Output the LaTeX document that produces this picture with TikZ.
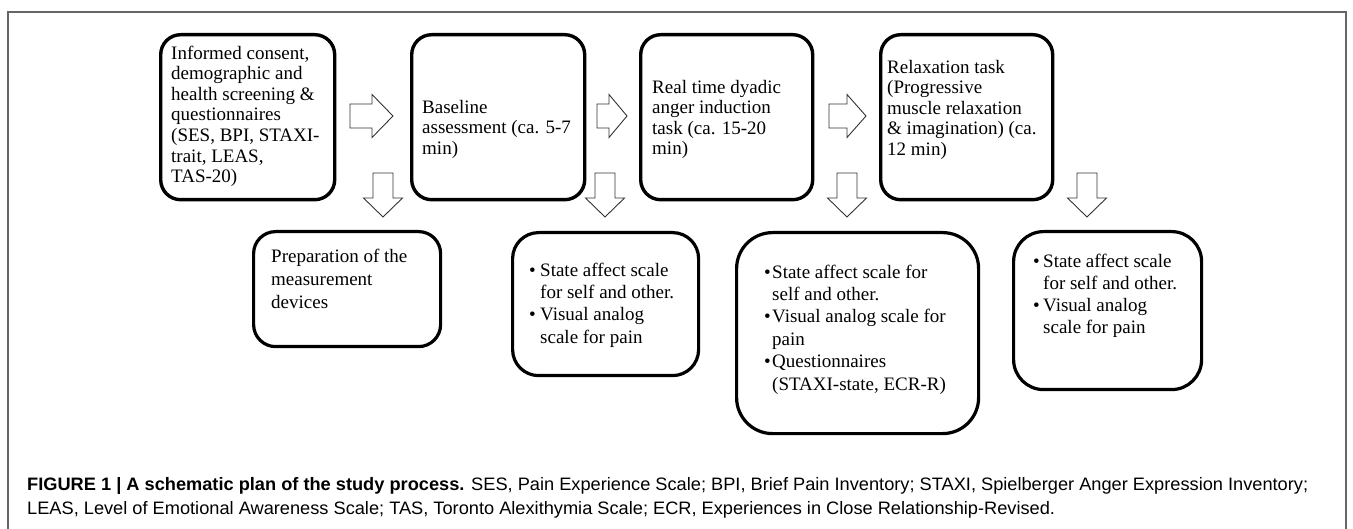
\documentclass[tikz,border=0pt]{standalone}
\usepackage{fontspec}
\setmainfont{Liberation Serif}
\newfontfamily\capfont{Liberation Sans}
\usepackage{graphicx}
\newsavebox\capboxA
\newsavebox\capboxB
\newlength\capwd
\newcommand\mybul[1]{\makebox[#1pt][l]{\textbullet}}
\newcommand\myind[1]{\hspace*{#1pt}}
\newcommand\rarr[4]{\draw[blk] (#1,#4-12) -- (#3,#4-12) -- (#3,#4-21.5) -- (#2,#4) -- (#3,#4+21.5) -- (#3,#4+12) -- (#1,#4+12) -- cycle;}
\newcommand\darr[1]{\draw[blk] (#1-10,173) -- (#1+10,173) -- (#1+10,198) -- (#1+19.5,198) -- (#1,217) -- (#1-19.5,198) -- (#1-10,198) -- cycle;}
\begin{document}
\sbox\capboxA{\capfont\fontsize{18}{22}\selectfont\textbf{FIGURE 1 | A schematic plan of the study process.} SES, Pain Experience Scale; BPI, Brief Pain Inventory; STAXI, Spielberger Anger Expression Inventory;}
\sbox\capboxB{\capfont\fontsize{18}{22}\selectfont LEAS, Level of Emotional Awareness Scale; TAS, Toronto Alexithymia Scale; ECR, Experiences in Close Relationship-Revised.}
\setlength\capwd{\wd\capboxA}
\pgfmathsetmacro\capsx{1281/\capwd}
\begin{tikzpicture}[x=1pt,y=-1pt,
  topbox/.style={draw=black, line width=3.4pt, rounded corners=20pt, anchor=north west, inner sep=0pt},
  lowbox/.style={draw=black, line width=3.2pt, anchor=north west, inner sep=0pt},
  txt/.style={anchor=north west, inner sep=0pt, align=left, font=\fontsize{19}{20.6}\selectfont},
  ltxt/.style={anchor=north west, inner sep=0pt, align=left, font=\fontsize{19}{22.4}\selectfont},
  blk/.style={draw=black!80, line width=0.9pt, fill=white, line join=miter},
  captxt/.style={anchor=base west, inner sep=0pt, text=black!90},
]
\useasboundingbox (0,0) rectangle (1353,529);
\fill[white] (0,0) rectangle (1353,529);
\draw[black!60, line width=1.4pt] (8,560) -- (8,12) -- (1346,12) -- (1346,560);

% top row
\node[topbox, minimum width=174pt, minimum height=165pt] (b1) at (159,33) {};
\node[topbox, minimum width=173pt, minimum height=165pt] (b2) at (410,33) {};
\node[topbox, minimum width=172pt, minimum height=165pt] (b3) at (639,33) {};
\node[topbox, minimum width=172pt, minimum height=165pt] (b4) at (879,33) {};

\node[txt] (t1) at (171,43) {\rule{0pt}{16pt}Informed consent,\\demographic and\\health screening \&\\questionnaires\\(SES, BPI, STAXI-\\trait, LEAS,\\TAS-20)};
\node[txt] (t2) at (422,97) {\rule{0pt}{16pt}Baseline\\assessment (ca. 5-7\\min)};
\node[txt] (t3) at (652,77) {\rule{0pt}{16pt}Real time dyadic\\anger induction\\task (ca. 15-20\\min)};
\node[txt] (t4) at (887,57) {\rule{0pt}{16pt}Relaxation task\\(Progressive\\muscle relaxation\\\& imagination) (ca.\\12 min)};

% bottom row
\node[lowbox, rounded corners=22pt, minimum width=187pt, minimum height=115pt] (p1) at (252,230) {};
\node[lowbox, rounded corners=26pt, minimum width=186pt, minimum height=143pt] (s2) at (511,231) {};
\node[lowbox, rounded corners=36pt, minimum width=242pt, minimum height=201pt] (s3) at (735,231) {};
\node[lowbox, rounded corners=30pt, minimum width=188pt, minimum height=158pt] (s4) at (1012,230) {};

\node[ltxt, font=\fontsize{19}{23}\selectfont] (pt) at (271,246) {\rule{0pt}{16pt}Preparation of the\\measurement\\devices};
\node[ltxt] (s2t) at (529,260) {\rule{0pt}{16pt}\mybul{11}State affect scale\\\myind{11}for self and other.\\\mybul{11}Visual analog\\\myind{11}scale for pain};
\node[ltxt] (s3t) at (764,262) {\rule{0pt}{16pt}\mybul{8}State affect scale for\\\myind{8}self and other.\\\mybul{8}Visual analog scale for\\\myind{8}pain\\\mybul{8}Questionnaires\\\myind{8}(STAXI-state, ECR-R)};
\node[ltxt, font=\fontsize{19}{22}\selectfont] (s4t) at (1033,251) {\rule{0pt}{16pt}\mybul{10}State affect scale\\\myind{10}for self and other.\\\mybul{10}Visual analog\\\myind{10}scale for pain};

% block arrows
\rarr{350}{393}{372}{116}
\rarr{597}{627}{609}{116}
\rarr{829}{866}{847}{116}
\darr{383}
\darr{605}
\darr{847}
\darr{1087}

% caption
\node[captxt] (cap1) at (27,490) {\scalebox{\capsx}[1]{\usebox\capboxA}};
\node[captxt] (cap2) at (27,514) {\scalebox{\capsx}[1]{\usebox\capboxB}};
\end{tikzpicture}
\end{document}
